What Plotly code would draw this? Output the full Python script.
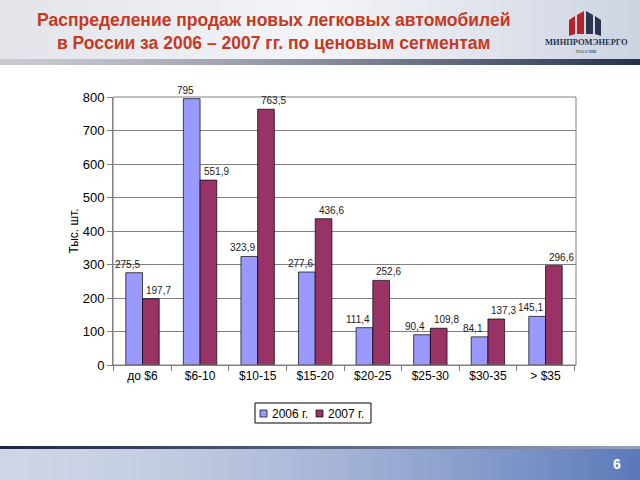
import plotly.graph_objects as go

categories = ["до $6", "$6-10", "$10-15", "$15-20", "$20-25", "$25-30", "$30-35", "> $35"]
sales_2006 = [275.5, 795, 323.9, 277.6, 111.4, 90.4, 84.1, 145.1]
sales_2007 = [197.7, 551.9, 763.5, 436.6, 252.6, 109.8, 137.3, 296.6]
labels_2006 = ["275,5", "795", "323,9", "277,6", "111,4", "90,4", "84,1", "145,1"]
labels_2007 = ["197,7", "551,9", "763,5", "436,6", "252,6", "109,8", "137,3", "296,6"]
y_ticks = [0, 100, 200, 300, 400, 500, 600, 700, 800]

COL_2006 = "#9999FF"
COL_2007 = "#993366"

W, H = 640, 480
L, R, T, B = 113, 576, 97, 365


def px(x):
    return (x - L) / (R - L)


def py(y):
    return (B - y) / (B - T)


def lerp(c1, c2, t):
    return "rgb(%d,%d,%d)" % tuple(round(a + (b - a) * t) for a, b in zip(c1, c2))


shapes = []
N = 64
for i in range(N):
    x0 = W * i / N
    x1 = W * (i + 1) / N + 0.6
    t = i / (N - 1)
    if t < 0.5:
        col = lerp((226, 228, 234), (244, 245, 248), t / 0.5)
    else:
        col = lerp((244, 245, 248), (205, 212, 226), (t - 0.5) / 0.5)
    shapes.append(dict(type="rect", xref="paper", yref="paper", x0=px(x0), x1=px(x1),
                       y0=py(60), y1=py(0), fillcolor=col, line_width=0, layer="below"))
    scol = lerp((200, 202, 208), (40, 50, 78), t ** 1.3)
    shapes.append(dict(type="rect", xref="paper", yref="paper", x0=px(x0), x1=px(x1),
                       y0=py(65), y1=py(59), fillcolor=scol, line_width=0, layer="below"))
    bcol = lerp((206, 213, 230), (92, 122, 186), t ** 1.6)
    shapes.append(dict(type="rect", xref="paper", yref="paper", x0=px(x0), x1=px(x1),
                       y0=py(480), y1=py(449), fillcolor=bcol, line_width=0, layer="below"))
    lcol = lerp((30, 38, 70), (150, 160, 185), t)
    shapes.append(dict(type="rect", xref="paper", yref="paper", x0=px(x0), x1=px(x1),
                       y0=py(449), y1=py(446), fillcolor=lcol, line_width=0, layer="below"))

# logo
logo_parts = [
    ((569, 20), (575, 16), (575, 34), (569, 36), "#b5232b"),
    ((577, 15), (584, 11), (584, 34), (577, 34), "#b5232b"),
    ((586, 11), (593, 15), (593, 34), (586, 34), "#2b3550"),
    ((595, 16), (601, 20), (601, 36), (595, 34), "#2b3550"),
]
for p0, p1, p2, p3, col in logo_parts:
    path = "M {} {} L {} {} L {} {} L {} {} Z".format(
        px(p0[0]), py(p0[1]), px(p1[0]), py(p1[1]), px(p2[0]), py(p2[1]), px(p3[0]), py(p3[1]))
    shapes.append(dict(type="path", xref="paper", yref="paper", path=path,
                       fillcolor=col, line_width=0))

# plot frame
shapes.append(dict(type="rect", xref="paper", yref="paper", x0=0, x1=1, y0=0, y1=1,
                   line=dict(color="#808080", width=1), fillcolor="rgba(0,0,0,0)"))

# manual legend
shapes.append(dict(type="rect", xref="paper", yref="paper", x0=px(255), x1=px(371),
                   y0=py(423), y1=py(403), line=dict(color="#000000", width=1),
                   fillcolor="#ffffff"))
shapes.append(dict(type="rect", xref="paper", yref="paper", x0=px(260), x1=px(267),
                   y0=py(417), y1=py(410), line=dict(color="#000000", width=0.7),
                   fillcolor=COL_2006))
shapes.append(dict(type="rect", xref="paper", yref="paper", x0=px(316), x1=px(323),
                   y0=py(417), y1=py(410), line=dict(color="#000000", width=0.7),
                   fillcolor=COL_2007))

fig = go.Figure()
fig.add_trace(go.Bar(
    x=categories, y=sales_2006, name="2006 г.",
    marker=dict(color=COL_2006, line=dict(color="#000000", width=0.7)),
))
fig.add_trace(go.Bar(
    x=categories, y=sales_2007, name="2007 г.",
    marker=dict(color=COL_2007, line=dict(color="#000000", width=0.7)),
))

annotations = [
    dict(text="<b>Распределение продаж новых легковых автомобилей</b><br><b>в России за 2006 – 2007 гг. по ценовым сегментам</b>",
         xref="paper", yref="paper", x=px(274), y=py(31), xanchor="center", yanchor="middle",
         showarrow=False, font=dict(family="Liberation Sans, Arial", size=17.5, color="#c8381c"),
         align="center"),
    dict(text="<b>МИНПРОМЭНЕРГО</b>", xref="paper", yref="paper", x=px(586), y=py(42),
         xanchor="center", yanchor="middle", showarrow=False,
         font=dict(family="Liberation Serif, Times New Roman", size=8.5, color="#2b3550")),
    dict(text="РОССИИ", xref="paper", yref="paper", x=px(586), y=py(51),
         xanchor="center", yanchor="middle", showarrow=False,
         font=dict(family="Liberation Serif, Times New Roman", size=5, color="#2b3550")),
    dict(text="<b>6</b>", xref="paper", yref="paper", x=px(617), y=py(464),
         xanchor="center", yanchor="middle", showarrow=False,
         font=dict(family="Liberation Sans, Arial", size=14, color="#ffffff")),
    dict(text="2006 г.", xref="paper", yref="paper", x=px(270), y=py(413.5),
         xanchor="left", yanchor="middle", showarrow=False,
         font=dict(family="Liberation Sans, Arial", size=12, color="#000000")),
    dict(text="2007 г.", xref="paper", yref="paper", x=px(326), y=py(413.5),
         xanchor="left", yanchor="middle", showarrow=False,
         font=dict(family="Liberation Sans, Arial", size=12, color="#000000")),
]

for cat, v, lab in zip(categories, sales_2006, labels_2006):
    annotations.append(dict(text=lab, x=cat, y=v, xref="x", yref="y", xshift=-15,
                            yanchor="bottom", xanchor="center", yshift=1, showarrow=False,
                            font=dict(family="Liberation Sans, Arial", size=10, color="#1a1a1a")))
for cat, v, lab in zip(categories, sales_2007, labels_2007):
    annotations.append(dict(text=lab, x=cat, y=v, xref="x", yref="y", xshift=16,
                            yanchor="bottom", xanchor="center", yshift=1, showarrow=False,
                            font=dict(family="Liberation Sans, Arial", size=10, color="#1a1a1a")))

fig.update_layout(
    width=W, height=H,
    margin=dict(l=L, r=W - R, t=T, b=H - B, pad=0),
    paper_bgcolor="#ffffff", plot_bgcolor="#ffffff",
    barmode="group", bargap=0.42, bargroupgap=0,
    font=dict(family="Liberation Sans, Arial", size=12, color="#000000"),
    showlegend=False,
    xaxis=dict(showgrid=False, showline=True, linecolor="#808080", linewidth=1,
               ticks="outside", tickson="boundaries", ticklen=5, tickcolor="#808080",
               tickfont=dict(size=12, color="#000000")),
    yaxis=dict(range=[0, 800], tickvals=y_ticks, showgrid=True, gridcolor="#808080",
               gridwidth=1, showline=True, linecolor="#808080", linewidth=1,
               ticks="outside", ticklen=5, tickcolor="#808080", zeroline=False,
               tickfont=dict(size=13, color="#000000"),
               title=dict(text="Тыс. шт.", font=dict(size=12), standoff=1)),
    shapes=shapes,
    annotations=annotations,
)

fig.write_html("out.html")
